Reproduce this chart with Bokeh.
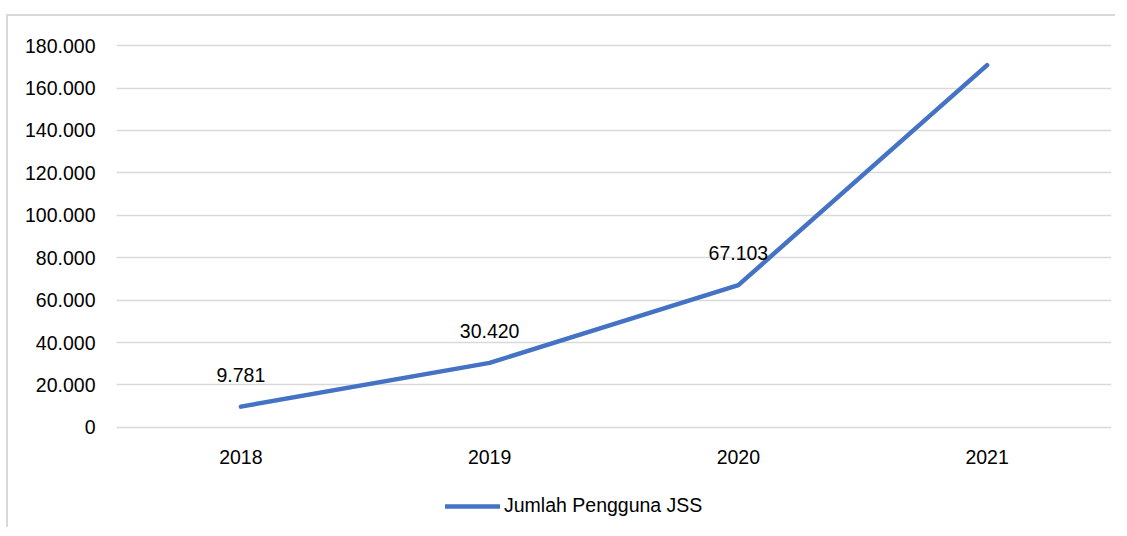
from bokeh.plotting import figure
from bokeh.layouts import column
from bokeh.models import (ColumnDataSource, FactorRange, Range1d, FixedTicker, Legend,
                          LegendItem)
from bokeh.core.properties import value
from bokeh.embed import file_html
from bokeh.resources import INLINE

# ---- data ----
years = ["2018", "2019", "2020", "2021"]
users = [9781, 30420, 67103, 170796]
point_labels = ["9.781", "30.420", "67.103", "170.796"]
y_ticks = [0, 20000, 40000, 60000, 80000, 100000, 120000, 140000, 160000, 180000]
y_tick_labels = ["0", "20.000", "40.000", "60.000", "80.000", "100.000",
                 "120.000", "140.000", "160.000", "180.000"]
series_name = "Jumlah Pengguna JSS"

FONT = "Liberation Sans"
FS = "19.5px"
BLUE = "#4472C4"
GRID = "#d9d9d9"

src = ColumnDataSource(dict(x=years, y=users, lab=point_labels))

p = figure(x_range=FactorRange(*years, range_padding=0),
           y_range=Range1d(-1000, 181000),
           width=1109, height=468,
           min_border_left=108, min_border_top=27, min_border_right=6, min_border_bottom=55,
           output_backend="svg", toolbar_location=None)
p.margin = (7, 0, 0, 6)
p.styles = {"border-left": "2px solid #d9d9d9", "border-top": "2px solid #d9d9d9",
            "position": "relative", "top": "7px"}
p.outline_line_color = None
p.background_fill_color = "white"
p.border_fill_color = "white"

# grid
p.xgrid.grid_line_color = None
p.ygrid.grid_line_color = GRID
p.ygrid.grid_line_width = 1.5
p.yaxis.ticker = FixedTicker(ticks=y_ticks)
p.yaxis.major_label_overrides = {t: l for t, l in zip(y_ticks, y_tick_labels)}

for ax in (p.xaxis, p.yaxis):
    ax.axis_line_color = None
    ax.major_tick_line_color = None
    ax.minor_tick_line_color = None
    ax.major_tick_out = 0
    ax.major_tick_in = 0
    ax.major_label_text_font = FONT
    ax.major_label_text_font_size = FS
    ax.major_label_text_color = "#000000"
p.yaxis.major_label_standoff = 21
p.xaxis.major_label_standoff = 20

line_style = dict(line_color=BLUE, line_width=4.5, line_cap="round", line_join="round")
p.line("x", "y", source=src, **line_style)
p.text("x", "y", text="lab", source=src, text_font=value(FONT), y_offset=-32,
       text_align="center", text_baseline="middle", text_font_size=FS, text_color="#000000")

# legend strip below the chart (shares x scale; its y window lies away from the data)
p2 = figure(width=1109, height=45, x_range=p.x_range, y_range=Range1d(-2000000, -1000000),
            x_axis_location=None, y_axis_location=None, min_border=0,
            output_backend="svg", toolbar_location=None)
p2.margin = (0, 0, 0, 6)
p2.styles = {"border-left": "2px solid #d9d9d9", "position": "relative", "top": "7px"}
p2.outline_line_color = None
p2.grid.grid_line_color = None
p2.border_fill_color = "white"
r2 = p2.line("x", "y", source=src, **line_style)
legend = Legend(items=[LegendItem(label=series_name, renderers=[r2])],
                orientation="horizontal", location=(329, 10),
                label_text_font=FONT, label_text_font_size=FS, label_text_color="#000000",
                glyph_width=55, glyph_height=20, label_standoff=4,
                border_line_color=None, background_fill_color=None,
                margin=0, padding=0)
p2.add_layout(legend)

layout = column(p, p2, spacing=0)
open("out.html", "w").write(file_html(layout, INLINE))
